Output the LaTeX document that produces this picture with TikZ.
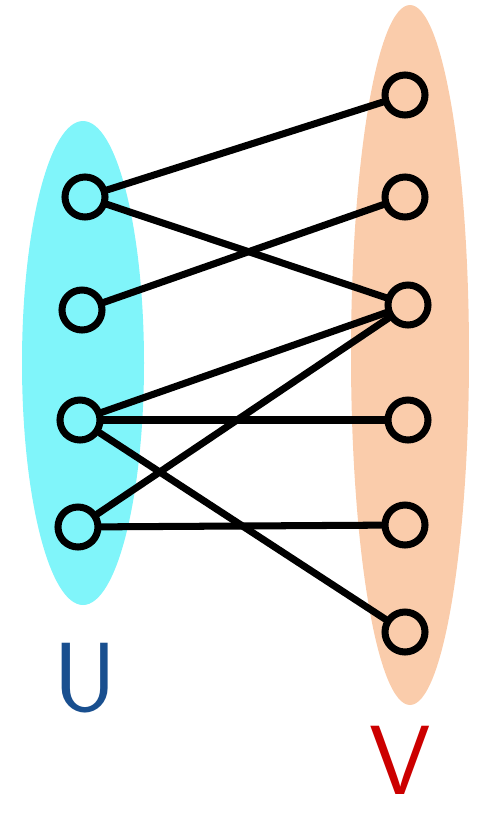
\documentclass[tikz,border=0pt]{standalone}
\usepackage{fontspec}
\usepackage{tikz}
\usetikzlibrary{positioning}
\tikzset{vert/.style = {draw, circle, line width=4pt, inner sep=0, minimum size=0.8cm}}
\tikzset{edge/.style = {line width=4pt, line cap=round}}
\tikzset{setname/.style = {font=\sffamily\fontsize{56}{56}\selectfont, inner sep=0}}
\definecolor{mcyan}{rgb}{0.5, 0.96, 0.98}
\definecolor{mpeach}{rgb}{0.98, 0.8, 0.67}
\definecolor{mblue}{rgb}{0.1, 0.31, 0.56}
\definecolor{mred}{rgb}{0.8, 0, 0}

\begin{document}
\begin{tikzpicture}[x=0.02cm, y=-0.02cm]
    \useasboundingbox (0, 0) rectangle (478, 818);

    \fill [mcyan] (83, 363) ellipse [x radius=61, y radius=242];
    \fill [mpeach] (410, 355) ellipse [x radius=59, y radius=350];

    \node [vert] (u1) at (85, 197) {};
    \node [vert] (u2) at (82, 310) {};
    \node [vert] (u3) at (80, 420) {};
    \node [vert] (u4) at (78, 527) {};

    \node [vert] (v1) at (405, 95) {};
    \node [vert] (v2) at (405, 197) {};
    \node [vert] (v3) at (408, 305) {};
    \node [vert] (v4) at (408, 420) {};
    \node [vert] (v5) at (405, 525) {};
    \node [vert] (v6) at (405, 632) {};

    \draw [edge] (u1) -- (v1);
    \draw [edge] (u1) -- (v3);
    \draw [edge] (u2) -- (v2);
    \draw [edge] (u3) -- (v3);
    \draw [edge] (u3) -- (v4);
    \draw [edge] (u3) -- (v6);
    \draw [edge] (u4) -- (v3);
    \draw [edge] (u4) -- (v5);

    \node [setname, text=mblue] (U) at (85, 678) {U};
    \node [setname, text=mred] (V) at (400, 760) {V};
  \end{tikzpicture}
\end{document}
